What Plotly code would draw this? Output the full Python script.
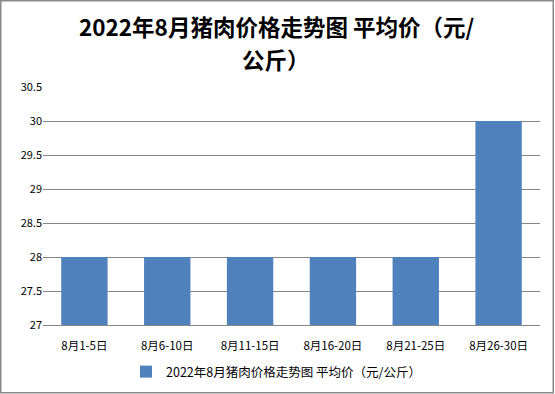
import plotly.graph_objects as go

categories = ["8月1-5日", "8月6-10日", "8月11-15日", "8月16-20日", "8月21-25日", "8月26-30日"]
prices = [28, 28, 28, 28, 28, 30]
series_name = "2022年8月猪肉价格走势图 平均价（元/公斤）"
title_lines = ["2022年8月猪肉价格走势图 平均价（元/", "公斤）"]
y_ticks = [27, 27.5, 28, 28.5, 29, 29.5, 30, 30.5]

W, H = 555, 394
L, R, T, B = 43, 15, 87, 69
pw, ph = W - L - R, H - T - B


def px_x(x):
    return (x - L) / pw


def px_y(y):
    return (H - B - y) / ph


fig = go.Figure(go.Bar(
    x=categories, y=prices, name=series_name,
    marker=dict(color="#4F81BD", line=dict(width=0)),
    showlegend=True,
))

font_family = "Noto Sans CJK SC, sans-serif"

fig.update_layout(
    width=W, height=H,
    margin=dict(l=L, r=R, t=T, b=B, autoexpand=False),
    paper_bgcolor="white", plot_bgcolor="white",
    font=dict(family=font_family, size=11, color="black"),
    bargap=0.44,
    hovermode=False,
    xaxis=dict(showgrid=False, showline=True, linecolor="#868686", linewidth=1,
               ticks="", tickfont=dict(size=11.5), automargin=False, ticklabelstandoff=10),
    yaxis=dict(range=[27, 30.5], tickvals=y_ticks, ticktext=[f"{v:g}" for v in y_ticks],
               showgrid=True, gridcolor="#868686", gridwidth=1, zeroline=False,
               showline=False, ticks="", ticklen=0, tickfont=dict(size=11), automargin=False),
    legend=dict(orientation="h", x=px_x(276), xanchor="center",
                y=px_y(372), yanchor="middle",
                font=dict(size=12.5)),
    annotations=[
        dict(text=f"<b>{title_lines[0]}</b>", xref="paper", yref="paper",
             x=px_x(276), y=px_y(26), xanchor="center", yanchor="middle",
             showarrow=False, font=dict(size=22.5, family=font_family, color="black")),
        dict(text=f"<b>{title_lines[1]}</b>", xref="paper", yref="paper",
             x=px_x(276), y=px_y(59), xanchor="center", yanchor="middle",
             showarrow=False, font=dict(size=22.5, family=font_family, color="black")),
    ],
    shapes=[dict(type="rect", xref="paper", yref="paper",
                 x0=px_x(0.75), x1=px_x(W - 1.75),
                 y0=px_y(H - 1.25), y1=px_y(0.75),
                 line=dict(color="#888888", width=1.5), fillcolor="rgba(0,0,0,0)", layer="below")],
)

fig.write_html("out.html", config={"displayModeBar": False},
               post_script="document.body.style.margin='0';document.body.style.padding='0';")
